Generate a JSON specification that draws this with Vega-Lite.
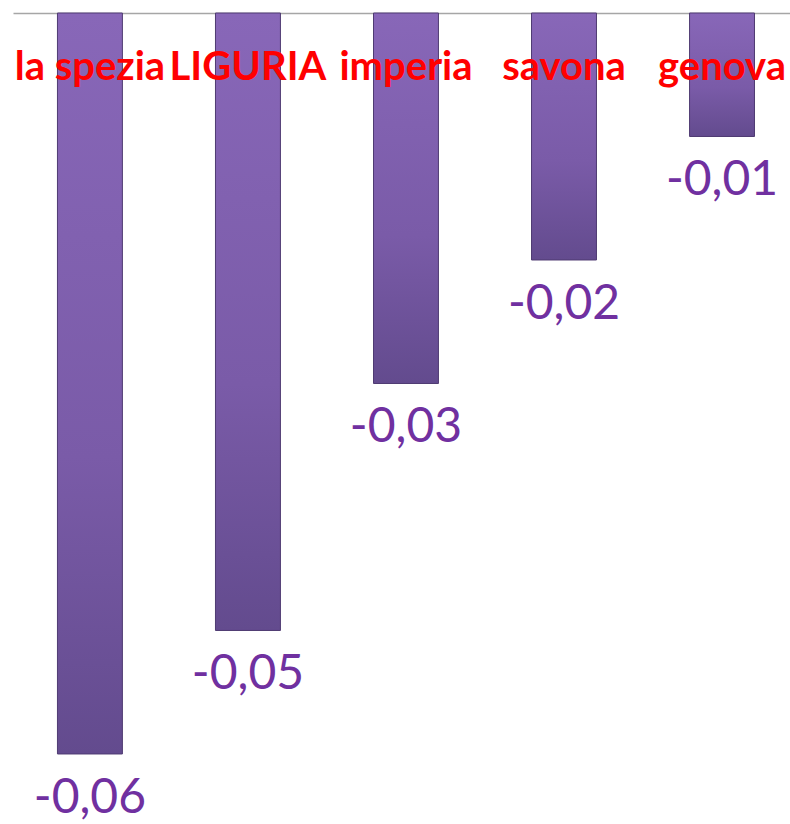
{
  "$schema": "https://vega.github.io/schema/vega-lite/v6.json",
  "autosize": {"type": "none"},
  "width": 777,
  "height": 811,
  "padding": {"top": 13, "left": 13, "right": 0, "bottom": 0},
  "background": "white",
  "config": {"view": {"stroke": null}},
  "data": {
    "values": [
      {"cat": "la spezia", "value": -0.06, "label": "-0,06"},
      {"cat": "LIGURIA", "value": -0.05, "label": "-0,05"},
      {"cat": "imperia", "value": -0.03, "label": "-0,03"},
      {"cat": "savona", "value": -0.02, "label": "-0,02"},
      {"cat": "genova", "value": -0.01, "label": "-0,01"}
    ]
  },
  "encoding": {
    "x": {
      "field": "cat", "type": "nominal", "sort": null,
      "scale": {"paddingInner": 0.589, "paddingOuter": 0.253, "align": 0.556},
      "axis": {"orient": "top", "labels": false, "ticks": false, "title": null, "domainColor": "#a6a6a6", "domainWidth": 1.5, "grid": false}
    }
  },
  "layer": [
    {
      "mark": {
        "type": "bar",
        "color": {
          "gradient": "linear", "x1": 0, "y1": 0, "x2": 0, "y2": 1,
          "stops": [
            {"offset": 0, "color": "#8867b8"},
            {"offset": 0.6, "color": "#7a5ba8"},
            {"offset": 1, "color": "#634b8e"}
          ]
        },
        "stroke": "#4f3b72",
        "strokeWidth": 1
      },
      "encoding": {
        "y": {
          "field": "value", "type": "quantitative",
          "scale": {"domain": [-0.06567, 0], "nice": false, "zero": false},
          "axis": null
        }
      }
    },
    {
      "mark": {"type": "text", "font": "Lato", "fontSize": 48, "color": "#7030a0", "baseline": "top", "dy": 21, "align": "center"},
      "encoding": {
        "y": {"field": "value", "type": "quantitative"},
        "text": {"field": "label"}
      }
    },
    {
      "mark": {"type": "text", "font": "Lato", "fontWeight": "bold", "fontSize": 40, "color": "#ff0000", "baseline": "alphabetic", "dy": 67, "align": "center"},
      "encoding": {
        "y": {"datum": 0},
        "text": {"field": "cat"}
      }
    }
  ]
}
